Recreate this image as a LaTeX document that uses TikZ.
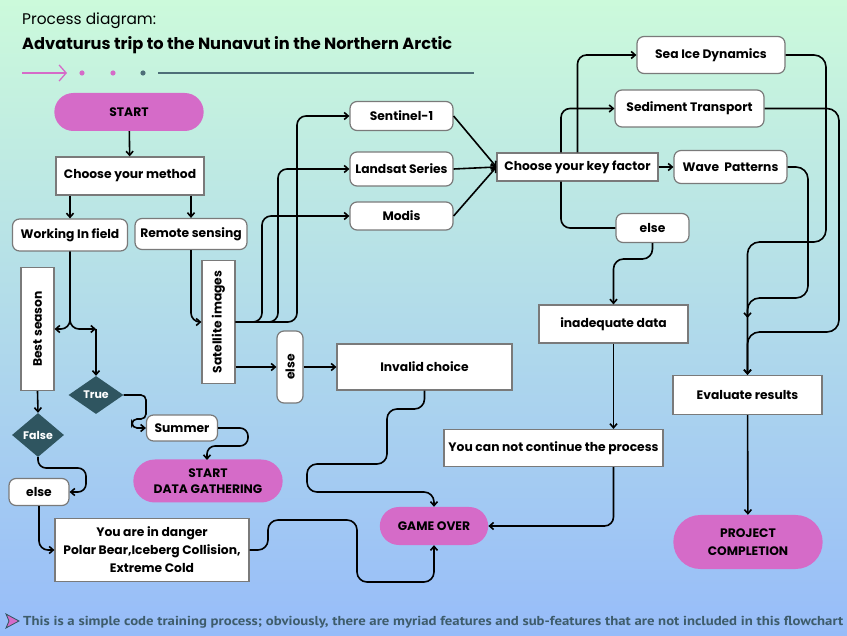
\documentclass[tikz,border=0pt]{standalone}
\usepackage{fontspec}
\usepackage{xcolor}
\usepackage{graphicx}
\usepackage{tikz}
\usetikzlibrary{arrows.meta,positioning,calc,shapes.geometric,shapes.misc}
\setmainfont{Poppins}
\newfontfamily\notefont{PT Sans}
\definecolor{pillpink}{HTML}{D56BC8}
\definecolor{choiceteal}{HTML}{2F5560}
\definecolor{bgtop}{HTML}{CCFADB}
\definecolor{bgbottom}{HTML}{97BCF9}
\definecolor{noteslate}{HTML}{3E5C6B}
\definecolor{boxgray}{HTML}{7A7A7A}

\begin{document}
\begin{tikzpicture}[
  x=1pt, y=-1pt,
  pill/.style={
    rounded rectangle,
    fill=pillpink,
    minimum width=156pt,
    minimum height=38pt,
    align=center,
    font=\bfseries\fontsize{12.3}{17}\selectfont
  },
  plainbox/.style={
    rectangle,
    draw=boxgray,
    fill=white,
    line width=1.2pt,
    inner sep=2pt,
    align=center,
    font=\bfseries\fontsize{12.3}{17}\selectfont
  },
  softbox/.style={plainbox, rounded corners=7pt},
  choice/.style={
    diamond,
    fill=choiceteal,
    text=white,
    inner sep=0pt,
    font=\bfseries\fontsize{11}{13}\selectfont
  },
  arrow/.style={-{Straight Barb[length=4pt,width=7pt]}, line width=1.6pt, rounded corners=9pt},
  link/.style={line width=1.6pt, rounded corners=9pt}
]

% background and header
\shade[top color=bgtop, bottom color=bgbottom] (0,0) rectangle (847,636);
\useasboundingbox (0,0) rectangle (847,636);

\node[anchor=west, inner sep=0pt, font=\fontsize{15.4}{18}\selectfont] (kicker) at (22,21) {Process diagram:};
\node[anchor=west, inner sep=0pt, font=\bfseries\fontsize{16.2}{19}\selectfont] (headline) at (22,45)
  {Advaturus trip to the Nunavut in the Northern Arctic};
\draw[pillpink, line width=1.3pt, -{Straight Barb[length=7pt,width=16pt]}] (22,73) -- (67,73);
\fill[pillpink] (82,73) circle (2.6) (113,73) circle (2.6);
\fill[choiceteal!85] (143,73) circle (2.6);
\draw[choiceteal!85, line width=1.5pt] (158,73) -- (474,73);

% left branch
\node[pill] (start) at (129,112) {START};
\node[plainbox, minimum width=148pt, minimum height=38pt] (method) at (130,176) {Choose your method};
\node[softbox, minimum width=115pt, minimum height=32pt] (field) at (70,235) {Working In field};
\node[softbox, minimum width=112pt, minimum height=31pt] (remote) at (191,234) {Remote sensing};
\node[plainbox, rotate=90, minimum width=123pt, minimum height=33pt] (best) at (37.5,329) {Best season};
\node[choice, minimum width=55pt, minimum height=38pt] (truech) at (96,395) {True};
\node[choice, minimum width=52pt, minimum height=44pt] (falsech) at (38,435) {False};
\node[softbox, minimum width=71pt, minimum height=26pt] (summer) at (182,428) {Summer};
\node[pill, minimum height=43pt, font=\bfseries\fontsize{12.3}{16}\selectfont] (gather) at (208,481) {START\\DATA GATHERING};
\node[softbox, minimum width=60pt, minimum height=27pt] (elseL) at (39,492) {else};
\node[plainbox, minimum width=194pt, minimum height=63pt, font=\bfseries\fontsize{12.3}{18}\selectfont] (danger) at (152,550)
  {You are in danger\\Polar Bear,Iceberg Collision,\\Extreme Cold};

% remote sensing branch
\node[plainbox, rotate=90, minimum width=123pt, minimum height=33pt] (sat) at (218.5,322) {Satellite images};
\node[softbox, rotate=90, minimum width=72pt, minimum height=26pt] (elseM) at (290,367) {else};
\node[plainbox, minimum width=175pt, minimum height=46pt] (invalid) at (424.5,367) {Invalid choice};
\node[softbox, minimum width=103pt, minimum height=29pt] (sentinel) at (401.5,116) {Sentinel-1};
\node[softbox, minimum width=103pt, minimum height=34pt] (landsat) at (401.5,169) {Landsat Series};
\node[softbox, minimum width=103pt, minimum height=28pt] (modis) at (401.5,216) {Modis};
\node[pill, minimum width=115pt] (gameover) at (434,526) {GAME OVER};

% key factor branch
\node[plainbox, minimum width=161pt, minimum height=28pt] (key) at (577.5,167) {Choose your key factor};
\node[softbox, minimum width=113pt, minimum height=33pt] (wave) at (730.5,167) {Wave\ \ Patterns};
\node[softbox, minimum width=148pt, minimum height=37pt] (seaice) at (711,55) {Sea Ice Dynamics};
\node[softbox, minimum width=149pt, minimum height=37pt] (sediment) at (689.5,108.5) {Sediment Transport};
\node[softbox, minimum width=73pt, minimum height=29pt] (elseR) at (652.5,228) {else};
\node[plainbox, minimum width=149pt, minimum height=38pt] (inadequate) at (613.5,324) {inadequate data};
\node[plainbox, minimum width=219pt, minimum height=37pt] (nocontinue) at (553.5,448) {You can not continue the process};
\node[plainbox, minimum width=149pt, minimum height=39pt] (evaluate) at (747.5,395) {Evaluate results};
\node[pill, minimum height=54pt, font=\bfseries\fontsize{12.3}{18}\selectfont] (completion) at (748,542) {PROJECT\\COMPLETION};

% footer
\draw[choiceteal, fill=pillpink, line width=0.8pt] (6,614) -- (19,621) -- (6,628) -- (9,621) -- cycle;
\node[anchor=west, inner sep=0pt, text=noteslate, font=\notefont\bfseries\fontsize{13}{15}\selectfont] (footnote) at (23,622)
  {\scalebox{1.135}[1]{This is a simple code training process; obviously, there are myriad features and sub-features that are not included in this flowchart}};

% connectors, left
\draw[arrow] (start) -- (method);
\draw[arrow] (field |- method.south) -- (field.north);
\draw[arrow] (remote |- method.south) -- (remote.north);
\coordinate (fork) at (96,329);
\draw[arrow] (field.south) |- (best.south);
\draw[arrow] (field.south) |- (fork);
\draw[arrow] (fork) -- (truech.north);
\draw[arrow] (best.west) -- (falsech.north);
\draw[arrow, rounded corners=5pt] (truech.east) -- (146,395) -- (146,419) -- (132,419) -- (132,428) -- (summer.west);
\draw[arrow, rounded corners=8pt] (summer.east) -- (248,428) -- (248,446) -- (207,446) -- (207,460);
\draw[arrow, rounded corners=8pt] (falsech.south) -- (38,468) -- (86,468) -- (86,492) -- (elseL.east);
\draw[arrow] (elseL.south) |- (danger.west);
\draw[arrow, rounded corners=10pt] (danger.east) -- (268,550) -- (268,520) -- (357,520) -- (357,582) -- (434,582) -- (gameover.south);

% connectors, remote sensing
\draw[arrow] (remote.south) |- (sat.north);
\draw[arrow] (sat.south) -- (262,322) -- (262,216) -- (modis.west);
\draw[arrow] (sat.south) -- (278,322) -- (278,169) -- (landsat.west);
\draw[arrow] (sat.south) -- (297,322) -- (297,116) -- (sentinel.west);
\draw[arrow] (sat.south |- elseM) -- (elseM.north);
\draw[arrow] (elseM.south) -- (invalid.west);
\draw[arrow, rounded corners=10pt] (invalid.south) -- (424.5,409) -- (387,409) -- (387,464) -- (307,464) -- (307,492) -- (434,492) -- (gameover.north);
\draw[arrow] (sentinel.east) -- (key.west);
\draw[arrow] (landsat.east) -- (key.west);
\draw[arrow] (modis.east) -- (key.west);

% connectors, key factor
\draw[arrow] (key) -- (wave);
\draw[arrow] (key.north) |- (seaice.west);
\draw[arrow] ([xshift=-16.5pt]key.north) |- (sediment.west);
\draw[link] ([xshift=-16.5pt]key.south) |- (elseR.west);
\draw[arrow, rounded corners=10pt] (elseR.south) -- (652.5,259) -- (613.5,259) -- (inadequate.north);
\draw[arrow] (inadequate) -- (nocontinue.north -| inadequate);
\draw[arrow] (nocontinue.south -| inadequate) |- (gameover.east);
\draw[arrow, rounded corners=12pt] (seaice.east) -- (826,55) -- (826,242) -- (747.5,242) -- (evaluate.north);
\draw[arrow, rounded corners=12pt] (wave.east) -- (808,167) -- (808,298) -- (747.5,298) -- (747.5,318);
\draw[arrow, rounded corners=12pt] (sediment.east) -- (839,108.5) -- (839,332) -- (747.5,332) -- (evaluate.north);
\draw[arrow] (evaluate) -- (completion);

\end{tikzpicture}
\end{document}
